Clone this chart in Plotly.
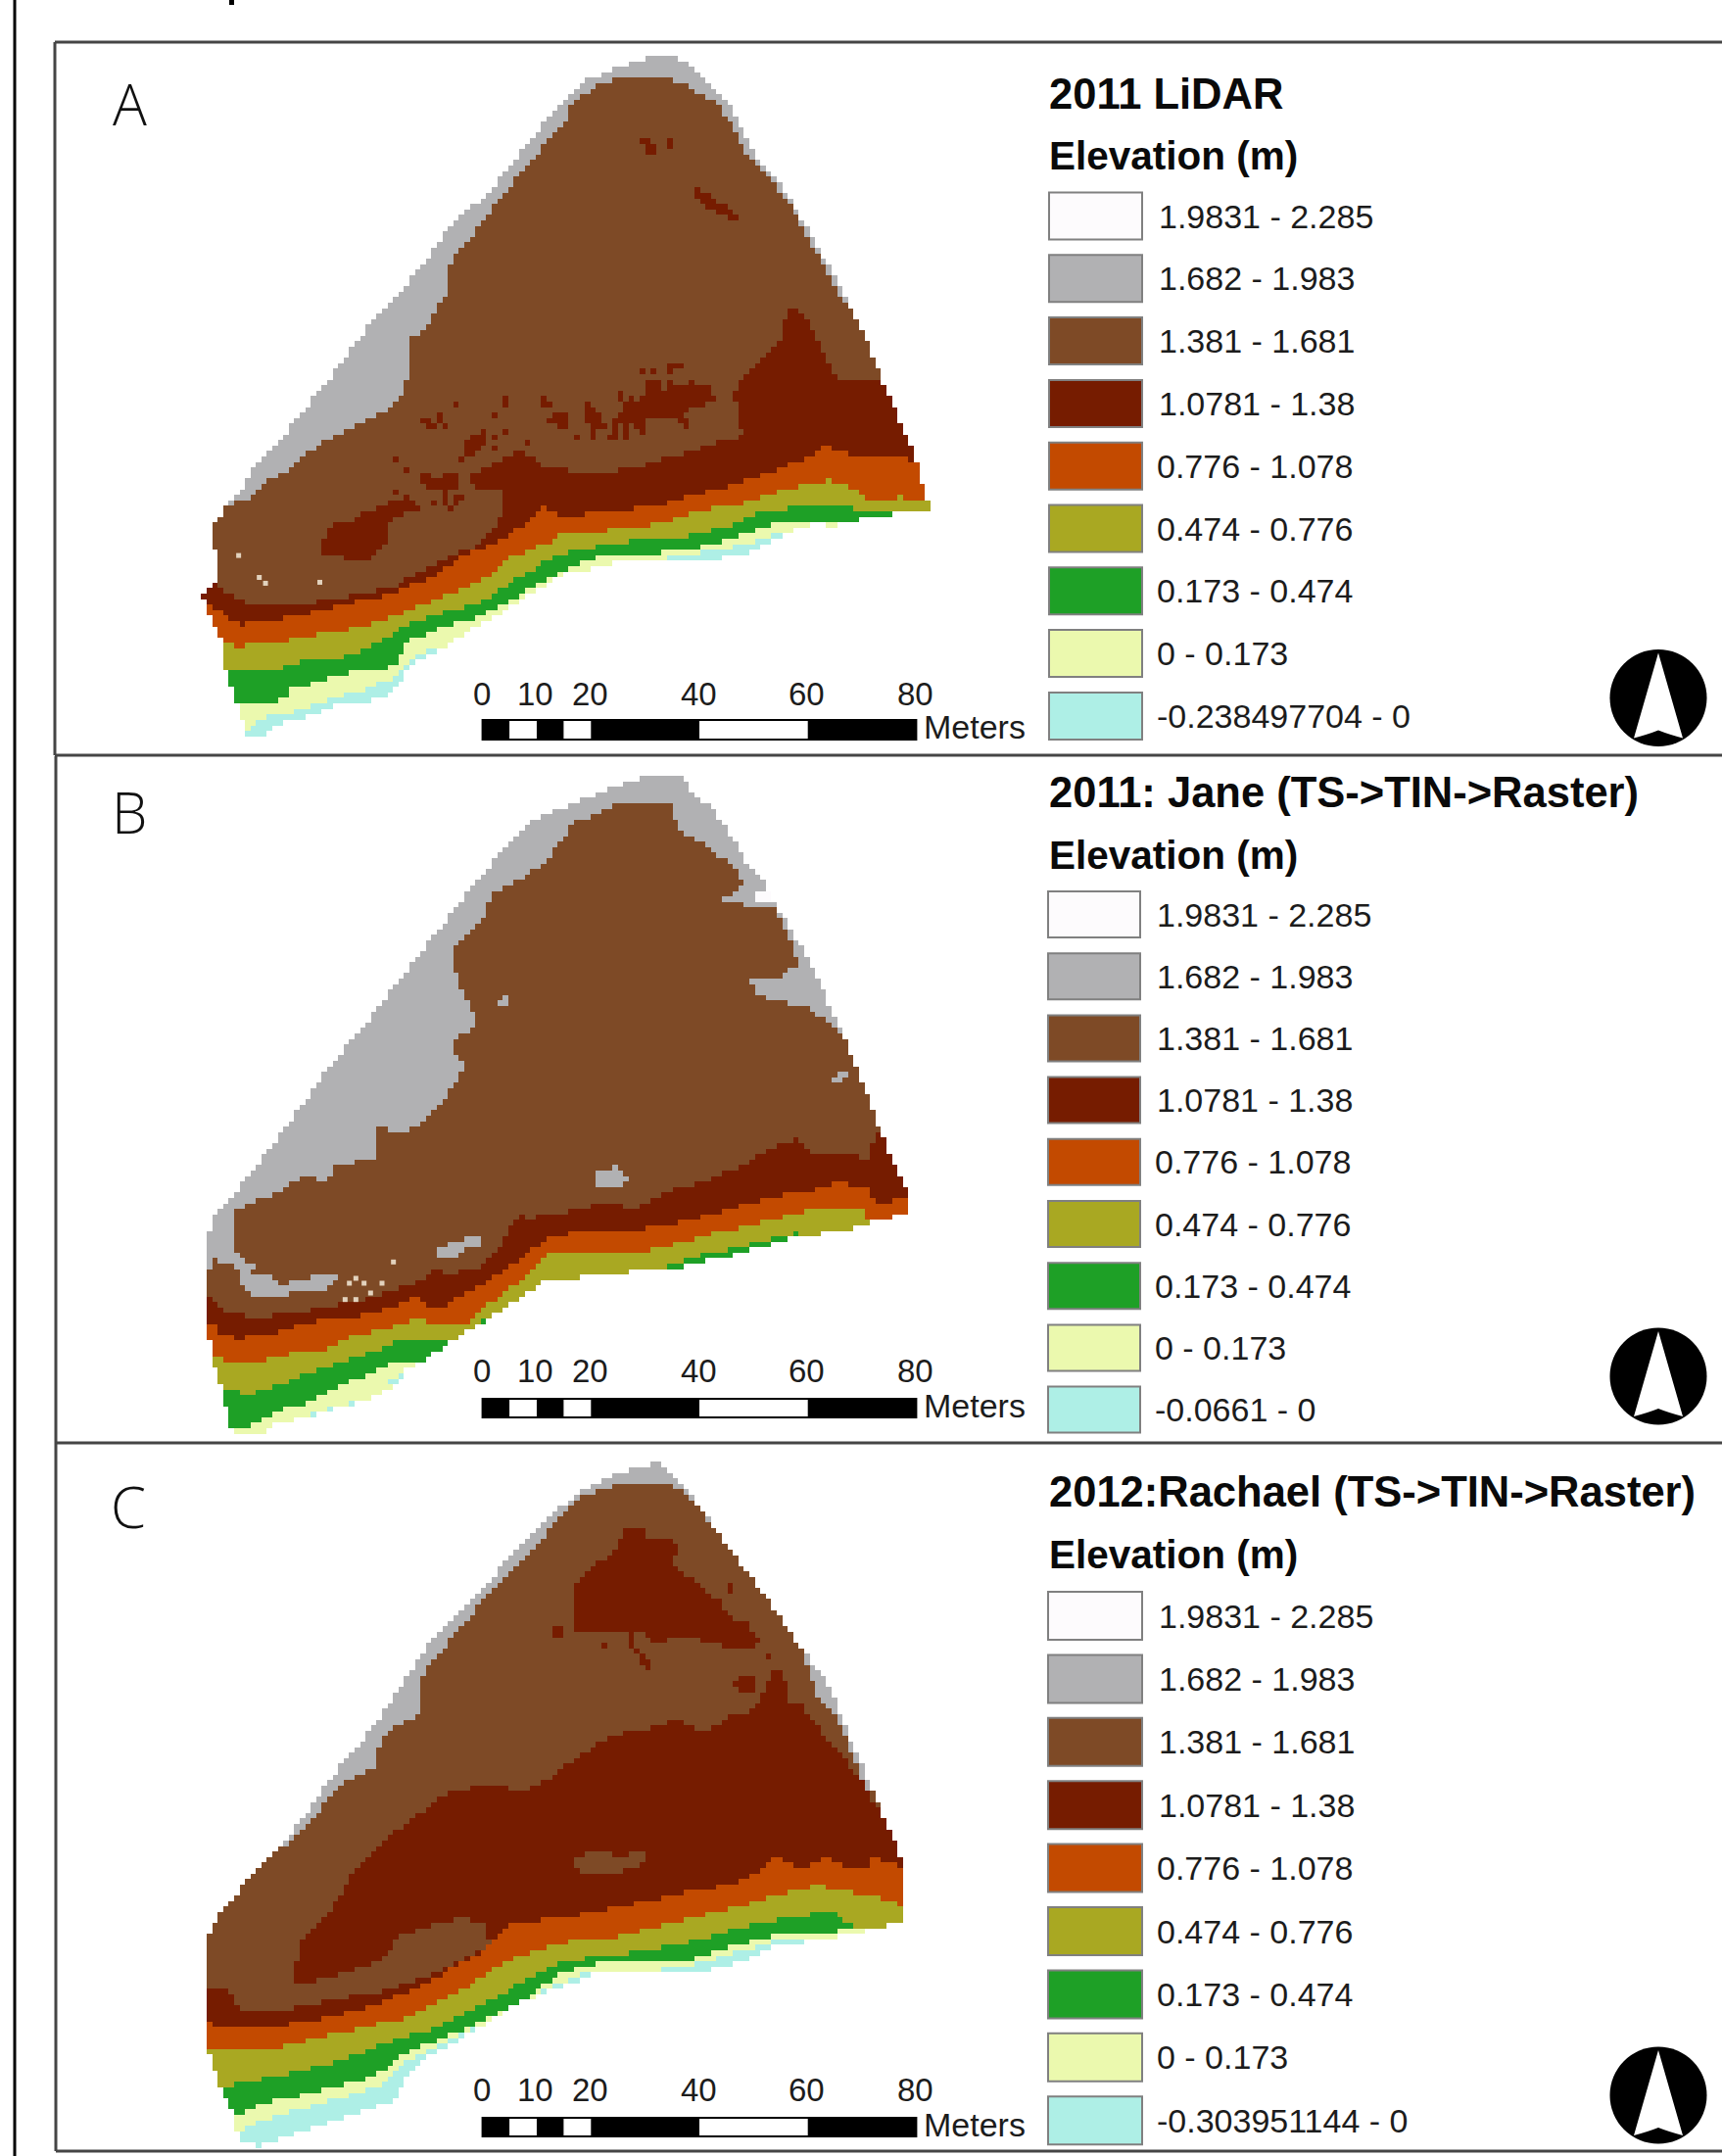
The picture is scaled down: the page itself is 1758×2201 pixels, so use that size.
import numpy as np
import plotly.graph_objects as go

# ---------- legend classes ----------
CLASS_COLORS = ["#fdfbfd", "#b1b1b3", "#7e4a26", "#761c00", "#c34a00", "#a9a822", "#1ea026", "#ebf9ae", "#aeefe6"]
RANGES = ["1.9831 - 2.285", "1.682 - 1.983", "1.381 - 1.681", "1.0781 - 1.38", "0.776 - 1.078",
          "0.474 - 0.776", "0.173 - 0.474", "0 - 0.173"]
TITLES = ["2011 LiDAR", "2011: Jane (TS->TIN->Raster)", "2012:Rachael (TS->TIN->Raster)"]
LAST_RANGE = ["-0.238497704 - 0", "-0.0661 - 0", "-0.303951144 - 0"]
LETTERS = ["A", "B", "C"]
SCALE_TICKS = [0, 10, 20, 40, 60, 80]
SCALE_BREAKS = [0, 5, 10, 15, 20, 40, 60, 80]

WHITE, GRAY, BROWN, DARK, ORANGE, OLIVE, GREEN, PALE, CYAN = range(9)
XS = 1000 / 1568
DY_A, DY_B, DY_C = 780 / 1568, 710 / 1568, 731 / 1568


def read(pts, x0, y0, top, dy):
    return [((x0 + x / 3) / XS, (y0 + y / 3 - top) / dy) for x, y in pts]


def ra(pts):
    return read(pts, 200, 500, 0, DY_A)


def ra2(pts):
    return read(pts, 400, 300, 0, DY_A)


def rb(pts):
    return read(pts, 200, 1220, 770, DY_B)


def rc(pts):
    return read(pts, 540, 1530, 1470, DY_C)


# ---------- map A outlines ----------
A_SIL = [(1035,120),(1090,120),(1110,145),(1140,175),(1165,205),(1185,255),(1215,330),(1250,380),(1280,440),(1320,530),(1350,600),(1385,690),(1410,770),(1440,860),(1465,930),(1475,990),(1492,1048),(1440,1052),(1390,1060),(1340,1078),(1300,1075),(1250,1100),(1200,1135),(1140,1148),(1070,1145),(1000,1150),(950,1165),(900,1180)] + ra([(1080,285),(1010,325),(950,370),(830,430),(790,465),(700,510),(640,560),(600,625),(530,650),(450,650),(370,685),(240,720),(220,750),(155,755),(135,680),(105,590),(90,545),(75,510),(75,460),(40,390),(40,345),(22,340),(22,315),(60,290),(60,265),(70,210),(40,155),(60,100),(90,50),(140,10)]) + [(400,970),(440,920),(480,850),(520,790),(560,720),(590,670),(640,600),(680,540),(720,460),(780,400),(830,320),(880,240),(930,170),(985,140)]
A_BROWN = [(358,1040),(375,1030),(400,1020),(430,985),(470,960),(490,930),(530,900),(570,870),(620,840),(645,810),(650,780),(660,740),(650,700),(680,680),(695,640),(720,600),(720,540),(740,510),(780,440),(830,360),(880,285),(905,250),(920,205),(960,175),(1000,155),(1060,155),(1100,175),(1145,210),(1170,250),(1195,320),(1245,385),(1275,440),(1310,525),(1345,610),(1500,800)]
A_DARK = ra([(25,320),(60,290),(130,340),(270,360),(450,330),(600,300),(720,230),(860,170),(930,90),(940,40)]) + [(810,1010),(760,1000),(750,980),(790,950),(830,925),(880,960),(950,970),(1020,960),(1080,935),(1130,915),(1190,895),(1175,800),(1220,740),(1250,700),(1260,630),(1285,640),(1300,680),(1320,730),(1340,775),(1410,780),(1430,800)]
A_ORANGE = ra([(40,345),(85,385),(140,410),(220,405),(330,380),(470,345),(600,320),(720,265),(830,195),(900,170),(1000,110),(1060,50)]) + [(900,1060),(960,1050),(1040,1040),(1130,1010),(1200,985),(1260,955),(1310,930),(1325,910),(1345,930),(1420,935),(1465,945)]
A_OLIVE = ra([(70,460),(120,480),(240,470),(320,450),(460,430),(600,390),(720,340),(800,310),(900,260),(960,210),(1080,160)]) + [(900,1095),(1000,1085),(1050,1075),(1130,1045),(1200,1030),(1250,1005),(1330,985),(1365,1000),(1390,1025),(1440,1020),(1480,1025)]
A_GREEN = ra([(95,545),(110,560),(250,555),(300,530),(430,515),(520,490),(620,430),(680,400),(780,370),(880,340),(960,290),(1000,260),(1080,215)]) + [(900,1135),(960,1120),(1040,1105),(1100,1100),(1180,1075),(1210,1050),(1280,1040),(1350,1040),(1390,1050)]
A_PALE = ra([(135,655),(190,655),(270,640),(290,610),(400,580),(470,560),(520,555),(620,540),(620,510),(650,465),(740,425),(880,385),(960,340),(1080,270)]) + [(960,1140),(1040,1135),(1100,1130),(1170,1105),(1240,1075),(1300,1070)]
A_CYAN = ra([(160,730),(200,700),(300,680),(420,640),(520,610),(600,580),(640,545),(680,500),(740,480)])
A_CYAN_2 = [(1070,1140),(1140,1130),(1200,1115),(1260,1090),(1300,1080),(1300,1200),(1070,1200)]
A_PATCHES_DARK = [
    ra([(375,180),(410,120),(440,90),(450,110),(510,70),(590,40),(650,20),(700,60),(620,80),(590,100),(580,170),(540,210),(480,220),(440,205),(400,200)]),
    ra2([(730,340),(790,330),(790,250),(820,260),(830,300),(900,285),(970,295),(975,335),(900,360),(895,400),(860,370),(770,385),(700,400),(695,365)]),
    ra2([(595,340),(615,340),(650,395),(610,410),(595,380)]),
    ra2([(450,320),(480,320),(495,345),(470,350)]), ra2([(485,370),(545,370),(545,395),(500,395)]),
    ra2([(220,450),(280,420),(285,460),(250,500),(225,490)]),
    ra2([(90,565),(200,550),(210,600),(100,595)]),
    [(1025,285),(1050,290),(1055,320),(1035,320)], [(1065,285),(1085,290),(1070,305)],
    [(1110,380),(1150,415),(1190,445),(1170,450),(1130,425),(1110,400)],
]
# isolated darker cells of the scattered patch, read row by row off the 3x view at page (400,300)
A_SPECK_ROWS = {
    225: [850,870,885], 245: [770,800,850], 265: [790,810,850,915],
    285: [790,810,850,870,890,915,935,955,970], 305: [700,790,810,830,850,870,890,910,930,950,970],
    325: [350,460,700,740,760,780,850,870,890,910,930,950,970,990],
    345: [200,350,470,490,600,720,740,760,780,800,830,850,870,890,910,930,950],
    365: [150,320,600,700,720,760,780,800,830,850,890],
    385: [90,110,150,490,510,530,600,620,640,690,710,750,770,890,910],
    405: [110,130,160,510,530,610,630,650,690,710,750,770,900],
    425: [280,340,620,690,710,760], 440: [260,320,570,620,670,690,720],
    460: [230,250,270,410], 480: [240,260,320], 500: [10,220], 540: [40],
    560: [100,120,170,190], 580: [90,110,130,150,170,190], 600: [20,170],
    620: [170,190,210], 640: [130,170,190], 655: [180],
}
A_DOTS_X = [382, 415, 425, 512]
A_DOTS_Y = [1140, 1185, 1197, 1195]

# ---------- map B outlines ----------
B_SIL = [(1035,48),(1090,48),(1110,85),(1145,130),(1175,190),(1195,240),(1225,295),(1250,360),(1290,450),(1330,570),(1355,650),(1390,770),(1410,850),(1440,950),(1455,995),(1455,1040),(1395,1050),(1385,1065),(1270,1090),(1175,1130),(1060,1165),(970,1170),(880,1190)] + rb([(1080,260),(1000,310),(930,360),(860,400),(780,450),(700,510),(650,530),(610,590),(530,630),(480,640),(380,670),(250,700),(190,740),(120,740),(100,700),(85,600),(55,520),(40,440),(40,115)]) + [(345,1040),(370,1000),(420,910),(480,800),(530,700),(590,600),(650,490),(700,400),(755,300),(810,210),(850,155),(900,120),(980,75)]
B_BROWN = [(335,1160),(345,1110),(370,1090),(375,1030),(440,990),(490,950),(525,965),(540,925),(600,915),(605,840),(650,855),(700,800),(745,710),(720,655),(765,605),(735,520),(722,440),(770,380),(790,310),(860,260),(900,195),(920,155),(985,115),(1075,115),(1085,170),(1130,205),(1165,245),(1195,290),(1150,335),(1240,345),(1260,400),(1280,470),(1240,510),(1200,500),(1215,545),(1300,575),(1340,625),(1500,800)]
B_PATCHES_GRAY = [
    rb([(40,115),(100,100),(120,130),(110,150),(130,190),(180,215),(170,240),(230,250),(260,285),(300,265),(360,250),(410,245),(430,250),(400,290),(310,300),(210,320),(150,300),(135,250),(110,215),(60,200),(40,225)]),
    rb([(730,170),(770,150),(815,145),(815,130),(880,130),(880,160),(820,170),(805,190),(750,195)]),
    [(955,940),(985,930),(1005,955),(1025,965),(975,975),(950,970)],
    [(1340,720),(1360,715),(1350,740),(1335,735)], [(800,555),(815,545),(815,565),(800,568)],
]
B_PATCH_WHITE = [(1205,315),(1232,310),(1232,335),(1205,335)]
B_DARK = rb([(40,315),(90,365),(200,375),(300,365),(400,345),(500,325),(600,295),(680,265),(720,240),(735,215),(750,240),(800,240),(880,215),(930,170),(960,110),(990,60),(1010,70),(1080,65)]) + [(970,1010),(1020,1025),(1070,985),(1130,965),(1190,925),(1250,880),(1275,870),(1300,905),(1340,895),(1395,915),(1400,850),(1415,860)]
B_ORANGE = rb([(40,400),(65,395),(75,430),(130,440),(260,420),(340,390),(480,375),(560,360),(660,320),(690,320),(700,345),(760,340),(850,290),(930,240),(1000,190),(1080,130)]) + [(950,1070),(1000,1075),(1080,1060),(1160,1030),(1230,1000),(1300,985),(1340,965),(1385,975),(1410,1020),(1450,995)]
B_OLIVE = rb([(55,500),(140,520),(280,490),(410,470),(470,440),(580,410),(690,380),(720,390),(840,390),(880,350),(960,290),(1020,240),(1080,170)]) + [(940,1125),(1040,1120),(1130,1085),(1210,1060),(1290,1030),(1385,1030),(1390,1060)]
B_GREEN = rb([(85,600),(180,610),(260,580),(340,545),(430,520),(570,470),(620,445),(780,450)])
B_GREEN_2 = [(1065,1155),(1110,1135),(1190,1110),(1275,1080),(1275,1200),(1065,1200)]
B_GREEN_3 = [(770,1280),(790,1265),(785,1295)]
B_PALE = rb([(105,710),(170,710),(250,660),(320,650),(400,610),(480,570),(600,520),(690,510)])
B_CYAN_PATCHES = [rb([(610,600),(590,570),(640,545),(650,560),(620,600)]),
                  rb([(230,720),(310,690),(420,650),(530,630),(480,650),(320,705),(240,730)])]
B_DOTS = rb([(605,205),(490,255),(470,270),(515,270),(570,270),(535,300),(457,320),(490,320)])

# ---------- map C outlines ----------
C_SIL = [(1020,60),(1058,48),(1075,75),(1095,100),(1130,165),(1180,260),(1240,370),(1290,470),(1330,540),(1360,650),(1395,760),(1430,870),(1450,935),(1450,1050),(1400,1070),(1350,1085),(1300,1095),(1240,1110),(1170,1150),(1100,1170),(1040,1165),(960,1165),(890,1200),(820,1240),(740,1310),(690,1345),(650,1400),(630,1450),(580,1470),(500,1505),(415,1545),(385,1535),(378,1510),(370,1470),(350,1410),(335,1340),(328,1320),(328,1110),(345,1050),(380,990),(430,915),(480,840),(530,740),(590,640),(640,545),(690,440),(760,340),(830,240),(880,170),(930,110),(985,75)]
C_BROWN = [(300,925),(435,910),(490,850),(540,760),(600,715),(610,650),(640,620),(670,605),(675,515),(720,440),(780,340),(840,260),(890,180),(925,130),(980,100),(1060,90),(1095,110),(1130,170),(1180,260),(1240,370),(1285,460),(1310,560),(1345,620),(1370,710),(1390,770),(1600,900)]
C_DARK = [(328,1205),(365,1205),(385,1250),(440,1250),(540,1225),(620,1205),(700,1165),(785,1110),(780,1060),(740,1045),(690,1065),(640,1085),(620,1125),(590,1150),(520,1180),(470,1190),(480,1100),(530,1030),(560,960),(590,910),(640,850),(720,770),(790,755),(840,770),(880,740),(940,680)] + rc([(235,735),(350,705),(380,700),(440,680),(500,690),(510,710),(560,700),(620,665),(680,650),(720,590),(730,560),(765,515),(790,560),(800,620),(830,625),(880,690),(930,760)]) + [(1380,740),(1410,820)]
C_PATCHES_DARK = [
    rc([(300,85),(360,85),(365,120),(425,120),(460,155),(440,185),(460,230),(505,235),(530,280),(580,310),(640,380),(680,370),(680,410),(720,430),(700,450),(640,455),(600,460),(590,445),(530,440),(525,420),(440,430),(390,440),(365,420),(355,400),(330,400),(320,460),(300,450),(300,415),(210,400),(150,415),(130,340),(140,260),(180,220),(240,180),(280,130)]),
    rc([(330,465),(350,480),(375,505),(355,530),(340,500)]),
    rc([(65,410),(90,385),(115,395),(105,415),(75,428)]),
    rc([(630,565),(650,545),(695,550),(690,590),(650,590)]),
    rc([(725,470),(760,490),(745,500)]),
    rc([(605,262),(632,262),(620,288)]), rc([(225,442),(250,442),(238,468)]),
]
C_PATCH_BROWN = [(920,915),(950,900),(990,910),(1030,900),(1035,925),(980,950),(925,955)]
C_ORANGE = [(328,1275),(360,1285),(440,1285),(520,1265),(600,1240),(680,1190),(760,1130),(815,1060),(900,1045),(1000,1020),(1100,990),(1170,975),(1220,945),(1245,910),(1280,945),(1320,910),(1340,930),(1390,935),(1400,910),(1420,925),(1450,935)]
C_OLIVE = [(338,1335),(430,1335),(490,1315),(570,1290),(650,1265),(720,1220),(790,1160),(830,1130),(900,1100),(1000,1085),(1100,1050),(1190,1020),(1260,990),(1310,975),(1360,990),(1410,1000),(1450,1025)]
C_GREEN = [(358,1415),(400,1405),(470,1385),(540,1360),(620,1320),(690,1290),(770,1240),(830,1190),(900,1140),(1000,1125),(1090,1105),(1190,1065),(1270,1045),(1330,1030),(1365,1065),(1420,1070)]
C_PALE = [(375,1480),(430,1450),(500,1430),(600,1395),(650,1340),(710,1310),(790,1260),(840,1225),(900,1165),(960,1145),(1040,1145),(1110,1135),(1180,1105),(1260,1080),(1345,1075)]
C_CYAN = [(380,1515),(440,1480),(520,1450),(610,1415),(650,1360),(700,1325),(800,1265),(870,1205),(940,1165),(1000,1160),(1060,1160),(1120,1145),(1180,1120),(1250,1095),(1290,1090)]


def below(boundary):
    """Close an upper boundary (listed left to right) around everything beneath it."""
    return boundary + [(1600, boundary[-1][1]), (1600, 1600), (200, 1600), (200, boundary[0][1])]


def inside(poly, X, Y):
    px, py = np.array(poly, float).T
    hit = np.zeros(X.shape, bool)
    for i in range(len(px)):
        j = i - 1
        cross = (py[i] > Y) != (py[j] > Y)
        xc = px[j] + (Y - py[j]) * (px[i] - px[j]) / (py[i] - py[j] + 1e-12)
        hit ^= cross & (X < xc)
    return hit


specks = []
for row, cols in A_SPECK_ROWS.items():
    specks += ra2([(c, row) for c in cols])

MAPS = [
    dict(sil=A_SIL, dy=DY_A, top=0, height=780, specks=specks, layers=[
        (BROWN, below(A_BROWN)), (DARK, below(A_DARK))] + [(DARK, p) for p in A_PATCHES_DARK] + [
        (ORANGE, below(A_ORANGE)), (OLIVE, below(A_OLIVE)), (GREEN, below(A_GREEN)),
        (PALE, below(A_PALE)), (CYAN, below(A_CYAN)), (CYAN, A_CYAN_2)],
        dots=(A_DOTS_X, A_DOTS_Y)),
    dict(sil=B_SIL, dy=DY_B, top=770, height=710, specks=[], layers=[
        (BROWN, below(B_BROWN))] + [(GRAY, p) for p in B_PATCHES_GRAY] + [(WHITE, B_PATCH_WHITE),
        (DARK, below(B_DARK)), (ORANGE, below(B_ORANGE)), (OLIVE, below(B_OLIVE)), (GREEN, below(B_GREEN)),
        (GREEN, B_GREEN_2), (GREEN, B_GREEN_3), (PALE, below(B_PALE))] + [(CYAN, p) for p in B_CYAN_PATCHES],
        dots=([p[0] for p in B_DOTS], [p[1] for p in B_DOTS])),
    dict(sil=C_SIL, dy=DY_C, top=1470, height=731, specks=[], layers=[
        (BROWN, below(C_BROWN)), (DARK, below(C_DARK))] + [(DARK, p) for p in C_PATCHES_DARK] + [
        (BROWN, C_PATCH_BROWN), (ORANGE, below(C_ORANGE)), (OLIVE, below(C_OLIVE)), (GREEN, below(C_GREEN)),
        (PALE, below(C_PALE)), (CYAN, below(C_CYAN))], dots=None),
]

W, H = 1758, 2201
CELL = 5.6
FONT = "Liberation Sans"
INK = "#1c1c1c"
fig = go.Figure()

n = len(CLASS_COLORS)
scale = []
for i, c in enumerate(CLASS_COLORS):
    scale += [[i / n, c], [(i + 1) / n, c]]

layout_axes = dict(
    xaxis=dict(domain=[0, 1], range=[0, W], visible=False, fixedrange=True),
    yaxis=dict(domain=[0, 1], range=[H, 0], visible=False, fixedrange=True),
)

for k, m in enumerate(MAPS):
    gx = np.arange(300, 1520, CELL / XS)
    gy = np.arange(30, 1560, CELL / m["dy"])
    X, Y = np.meshgrid(gx, gy)
    z = np.full(X.shape, GRAY, float)
    for cls, poly in m["layers"]:
        z[inside(poly, X, Y)] = cls
    for sx, sy in m["specks"]:
        ix, iy = int(np.argmin(abs(gx - sx))), int(np.argmin(abs(gy - sy)))
        if z[iy, ix] == BROWN:
            z[iy, ix] = DARK
    z[~inside(m["sil"], X, Y)] = np.nan
    ax = str(k + 2)
    layout_axes["xaxis" + ax] = dict(domain=[0, 1000 / W], range=[0, 1568], visible=False, fixedrange=True, anchor="y" + ax)
    layout_axes["yaxis" + ax] = dict(domain=[1 - (m["top"] + m["height"]) / H, 1 - m["top"] / H], range=[1568, 0],
                                     visible=False, fixedrange=True, anchor="x" + ax)
    fig.add_trace(go.Heatmap(x=gx, y=gy, z=z, zmin=-0.5, zmax=n - 0.5, colorscale=scale, showscale=False,
                             hoverinfo="skip", xaxis="x" + ax, yaxis="y" + ax))
    if m["dots"]:
        fig.add_trace(go.Scatter(x=m["dots"][0], y=m["dots"][1], mode="markers", hoverinfo="skip",
                                 marker=dict(size=5, color="#e2d2bd", symbol="square"), xaxis="x" + ax, yaxis="y" + ax))

# panel layout (page pixels)
PANELS = [
    dict(title_y=95.5, elev_y=159, sw_top=196.5, sw_step=63.8, sw_h=48, sw_l=1071, sw_r=1166, lab_x=1183,
         tick_y=709, bar=(735, 755), met_y=742, north=(1693, 712.5), letter=(132, 107)),
    dict(title_y=809, elev_y=873, sw_top=910, sw_step=63.2, sw_h=47, sw_l=1070, sw_r=1164, lab_x=1181,
         tick_y=1400, bar=(1428, 1447), met_y=1435, north=(1693, 1405), letter=(132, 830)),
    dict(title_y=1523, elev_y=1587, sw_top=1625, sw_step=64.4, sw_h=49, sw_l=1070, sw_r=1166, lab_x=1183,
         tick_y=2134, bar=(2162, 2181), met_y=2169, north=(1693, 2139), letter=(131, 1539)),
]
BAR_X0, BAR_PER_M = 492.6, 5.535

shapes, ann = [], []


def rect(x0, y0, x1, y1, fill, line=None, lw=0):
    shapes.append(dict(type="rect", x0=x0, y0=y0, x1=x1, y1=y1, xref="x", yref="y", fillcolor=fill,
                       line=dict(color=line or fill, width=lw), layer="above"))


def text(x, y, s, size, bold=False, anchor="left", family=FONT, color=INK, weight=None):
    ann.append(dict(x=x, y=y, text=s, xref="x", yref="y", showarrow=False, xanchor=anchor, yanchor="middle", borderpad=0,
                    font=dict(family=family, size=size, color=color, weight=weight or (700 if bold else 400))))


for k, p in enumerate(PANELS):
    text(1070, p["title_y"], TITLES[k], 43.5, bold=True, color="#0a0a0a")
    text(1070, p["elev_y"], "Elevation (m)", 40.5, bold=True, color="#0a0a0a")
    labels = RANGES + [LAST_RANGE[k]]
    for i, lab in enumerate(labels):
        y0 = p["sw_top"] + i * p["sw_step"]
        rect(p["sw_l"], y0, p["sw_r"], y0 + p["sw_h"], CLASS_COLORS[i], "#808080", 2)
        text(p["lab_x"] + (-1 if i < 4 else -3), y0 + p["sw_h"] / 2, lab, 34)
    # scale bar
    b0, b1 = p["bar"]
    for i in range(len(SCALE_BREAKS) - 1):
        rect(BAR_X0 + SCALE_BREAKS[i] * BAR_PER_M, b0, BAR_X0 + SCALE_BREAKS[i + 1] * BAR_PER_M, b1,
             "#000000" if i % 2 == 0 else "#ffffff")
    shapes.append(dict(type="rect", x0=BAR_X0, y0=b0, x1=BAR_X0 + 80 * BAR_PER_M, y1=b1, xref="x", yref="y",
                       line=dict(color="#000000", width=2), layer="above"))
    for t in SCALE_TICKS:
        text(BAR_X0 + t * BAR_PER_M - 1, p["tick_y"] - 1, str(t), 33, anchor="center")
    text(942, p["met_y"], "Meters", 34)
    # north arrow
    cx, cy = p["north"]
    shapes.append(dict(type="circle", x0=cx - 49.5, x1=cx + 49.5, y0=cy - 49.5, y1=cy + 49.5, xref="x", yref="y",
                       fillcolor="#000000", line=dict(width=0), layer="above"))
    shapes.append(dict(type="path", xref="x", yref="y", fillcolor="#ffffff", line=dict(width=0), layer="above",
                       path=f"M {cx},{cy-46} L {cx+25},{cy+41} Q {cx+10},{cy+37} {cx},{cy+33} "
                            f"Q {cx-10},{cy+37} {cx-25},{cy+41} Z"))
    text(p["letter"][0], p["letter"][1] - 2, LETTERS[k], 58, anchor="center", family="Open Sans", color="#111111", weight=300)

# frames
FRAME = "#454545"
for seg in [(56, 43, W, 43), (56, 43, 56, 771), (57, 772, 57, 1473), (56, 771, W, 771),
            (57, 1473, W, 1473), (57, 1473, 57, 2196), (57, 2196, W, 2196)]:
    shapes.append(dict(type="line", x0=seg[0], y0=seg[1], x1=seg[2], y1=seg[3], xref="x", yref="y",
                       line=dict(color=FRAME, width=3), layer="above"))
shapes.append(dict(type="line", x0=15, y0=0, x1=15, y1=H, xref="x", yref="y", line=dict(color="#000000", width=3), layer="above"))
rect(234, 0, 239, 5, "#000000")

fig.update_layout(width=W, height=H, margin=dict(l=0, r=0, t=0, b=0, pad=0), paper_bgcolor="white", plot_bgcolor="white",
                  showlegend=False, shapes=shapes, annotations=ann, **layout_axes)
# an empty trace keeps the page-wide axes alive for the shapes and labels
fig.add_trace(go.Scatter(x=[0], y=[0], mode="markers", marker=dict(opacity=0), hoverinfo="skip", xaxis="x", yaxis="y"))
fig.write_html("out.html", config=dict(displayModeBar=False),
               post_script="document.body.style.margin='0';document.body.style.overflow='hidden';")
